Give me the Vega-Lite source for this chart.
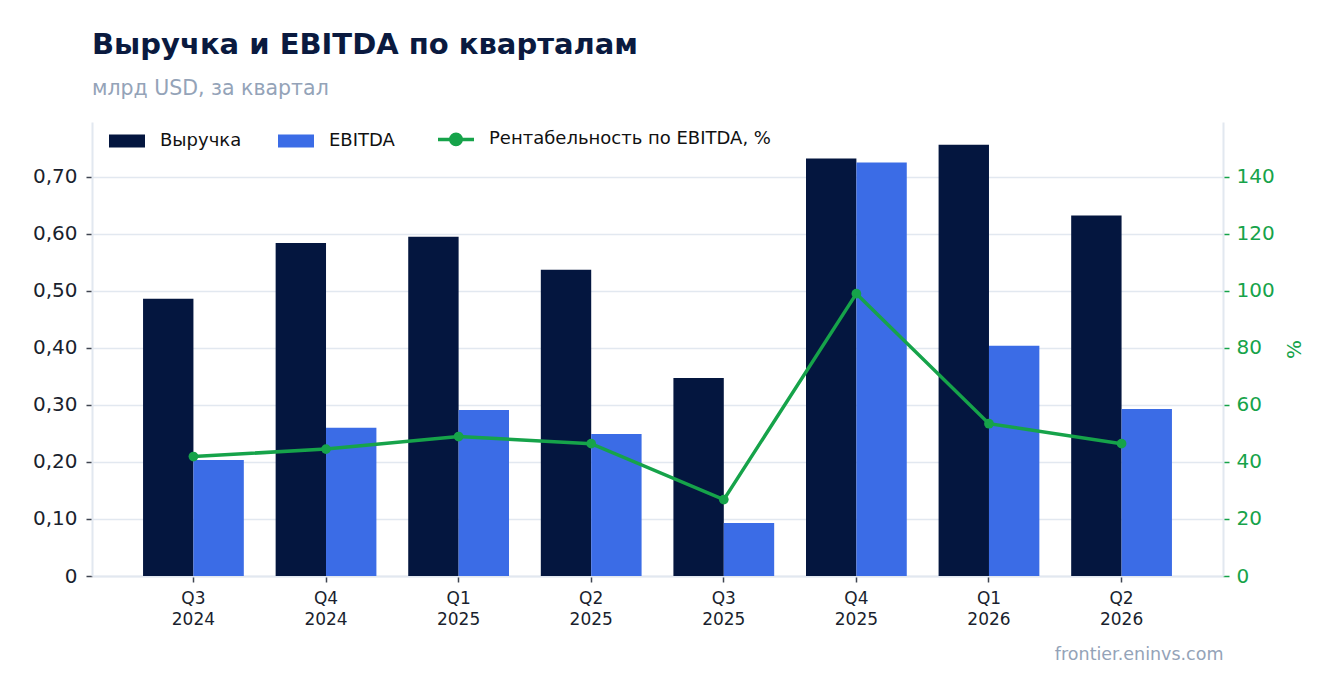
{
  "$schema": "https://vega.github.io/schema/vega-lite/v6.json",
  "autosize": "none",
  "width": 1131,
  "height": 454,
  "padding": {"left": 92, "top": 122, "right": 113, "bottom": 117},
  "background": "white",
  "config": {
    "font": "DejaVu Sans",
    "view": {"stroke": null},
    "axis": {"domainColor": "#e2e8f0", "domainWidth": 2, "gridColor": "#e2e8f0", "gridWidth": 1.5}
  },
  "title": {
    "text": "Выручка и EBITDA по кварталам",
    "subtitle": "млрд USD, за квартал",
    "anchor": "start",
    "frame": "group",
    "font": "DejaVu Sans",
    "fontSize": 29,
    "fontWeight": "bold",
    "color": "#0a1a3f",
    "subtitleFont": "DejaVu Sans",
    "subtitleFontSize": 20.5,
    "subtitleColor": "#94a3b8",
    "subtitlePadding": 19,
    "offset": 23
  },
  "data": {
    "values": [
      {"q": "Q3 2024", "series": "Выручка", "value": 0.486},
      {"q": "Q4 2024", "series": "Выручка", "value": 0.584},
      {"q": "Q1 2025", "series": "Выручка", "value": 0.595},
      {"q": "Q2 2025", "series": "Выручка", "value": 0.537},
      {"q": "Q3 2025", "series": "Выручка", "value": 0.347},
      {"q": "Q4 2025", "series": "Выручка", "value": 0.732},
      {"q": "Q1 2026", "series": "Выручка", "value": 0.756},
      {"q": "Q2 2026", "series": "Выручка", "value": 0.632},
      {"q": "Q3 2024", "series": "EBITDA", "value": 0.2035},
      {"q": "Q4 2024", "series": "EBITDA", "value": 0.26},
      {"q": "Q1 2025", "series": "EBITDA", "value": 0.291},
      {"q": "Q2 2025", "series": "EBITDA", "value": 0.249},
      {"q": "Q3 2025", "series": "EBITDA", "value": 0.093},
      {"q": "Q4 2025", "series": "EBITDA", "value": 0.725},
      {"q": "Q1 2026", "series": "EBITDA", "value": 0.4035},
      {"q": "Q2 2026", "series": "EBITDA", "value": 0.293},
      {"q": "Q3 2024", "series": "Рентабельность по EBITDA, %", "value": 41.9},
      {"q": "Q4 2024", "series": "Рентабельность по EBITDA, %", "value": 44.5},
      {"q": "Q1 2025", "series": "Рентабельность по EBITDA, %", "value": 48.9},
      {"q": "Q2 2025", "series": "Рентабельность по EBITDA, %", "value": 46.4},
      {"q": "Q3 2025", "series": "Рентабельность по EBITDA, %", "value": 26.8},
      {"q": "Q4 2025", "series": "Рентабельность по EBITDA, %", "value": 99.0},
      {"q": "Q1 2026", "series": "Рентабельность по EBITDA, %", "value": 53.4},
      {"q": "Q2 2026", "series": "Рентабельность по EBITDA, %", "value": 46.4}
    ]
  },
  "encoding": {
    "x": {
      "field": "q",
      "type": "nominal",
      "sort": null,
      "scale": {"paddingInner": 0.24, "paddingOuter": 0.385},
      "axis": {
        "title": "frontier.eninvs.com",
        "titleAnchor": "end",
        "titleAlign": "right",
        "titleColor": "#94a3b8",
        "titleFontSize": 17.5,
        "titleFontWeight": "normal",
        "titlePadding": 18,
        "labelAngle": 0,
        "labelExpr": "split(datum.label, ' ')",
        "labelFontSize": 17,
        "labelColor": "#1a1f2e",
        "labelLineHeight": 21,
        "labelPadding": 8,
        "tickColor": "#3f4450",
        "tickSize": 6,
        "tickWidth": 1.5
      }
    }
  },
  "layer": [
    {
      "transform": [{"filter": "datum.series != 'Рентабельность по EBITDA, %'"}],
      "mark": {"type": "bar"},
      "encoding": {
        "xOffset": {"field": "series", "type": "nominal", "scale": {"domain": ["Выручка", "EBITDA"], "paddingInner": 0, "paddingOuter": 0}},
        "y": {
          "field": "value",
          "type": "quantitative",
          "scale": {"domain": [0, 0.796], "nice": false},
          "axis": {
            "title": null,
            "values": [0, 0.1, 0.2, 0.3, 0.4, 0.5, 0.6, 0.7],
            "labelExpr": "datum.value == 0 ? '0' : replace(format(datum.value, '.2f'), '.', ',')",
            "labelFontSize": 20,
            "labelColor": "#1a1f2e",
            "labelPadding": 9,
            "tickColor": "#3f4450",
            "tickSize": 6,
            "tickWidth": 1.5,
            "grid": true
          }
        },
        "color": {
          "field": "series",
          "type": "nominal",
          "scale": {
            "domain": ["Выручка", "EBITDA", "Рентабельность по EBITDA, %"],
            "range": ["#04163f", "#3b6ce6", "#16a34a"]
          },
          "legend": {
            "title": null,
            "orient": "none",
            "direction": "horizontal",
            "columns": 3,
            "legendX": 26,
            "legendY": 8,
            "padding": 0,
            "symbolSize": 1296,
            "labelOffset": 24,
            "columnPadding": 36,
            "labelFontSize": 18,
            "labelLimit": 500,
            "labelColor": "#111111",
            "encode": {
              "symbols": {
                "update": {
                  "shape": {"signal": "datum.value === 'Рентабельность по EBITDA, %' ? 'M-1,0H1M0.29,0A0.29,0.29,0,1,1,-0.29,0A0.29,0.29,0,1,1,0.29,0Z' : 'M-1,-0.36H1V0.36H-1Z'"},
                  "fill": {"signal": "scale('color', datum.value)"},
                  "stroke": {"signal": "scale('color', datum.value)"},
                  "strokeWidth": {"signal": "datum.value === 'Рентабельность по EBITDA, %' ? 3.5 : 0"},
                  "opacity": {"value": 1},
                  "fillOpacity": {"value": 1}
                }
              }
            }
          }
        }
      }
    },
    {
      "transform": [{"filter": "datum.series == 'Рентабельность по EBITDA, %'"}],
      "mark": {"type": "line", "strokeWidth": 3.5, "point": {"filled": true, "size": 95}},
      "encoding": {
        "y": {
          "field": "value",
          "type": "quantitative",
          "scale": {"domain": [0, 159.2], "nice": false},
          "axis": {
            "orient": "right",
            "title": "%",
            "titleAngle": 270,
            "titleColor": "#16a34a",
            "titleFontSize": 20,
            "titleFontWeight": "normal",
            "titlePadding": 30,
            "values": [0, 20, 40, 60, 80, 100, 120, 140],
            "format": "d",
            "labelFontSize": 20,
            "labelColor": "#16a34a",
            "labelPadding": 7,
            "tickColor": "#16a34a",
            "tickSize": 6,
            "tickWidth": 1.5,
            "grid": false
          }
        },
        "color": {"field": "series", "type": "nominal"}
      }
    }
  ],
  "resolve": {"scale": {"y": "independent"}}
}
